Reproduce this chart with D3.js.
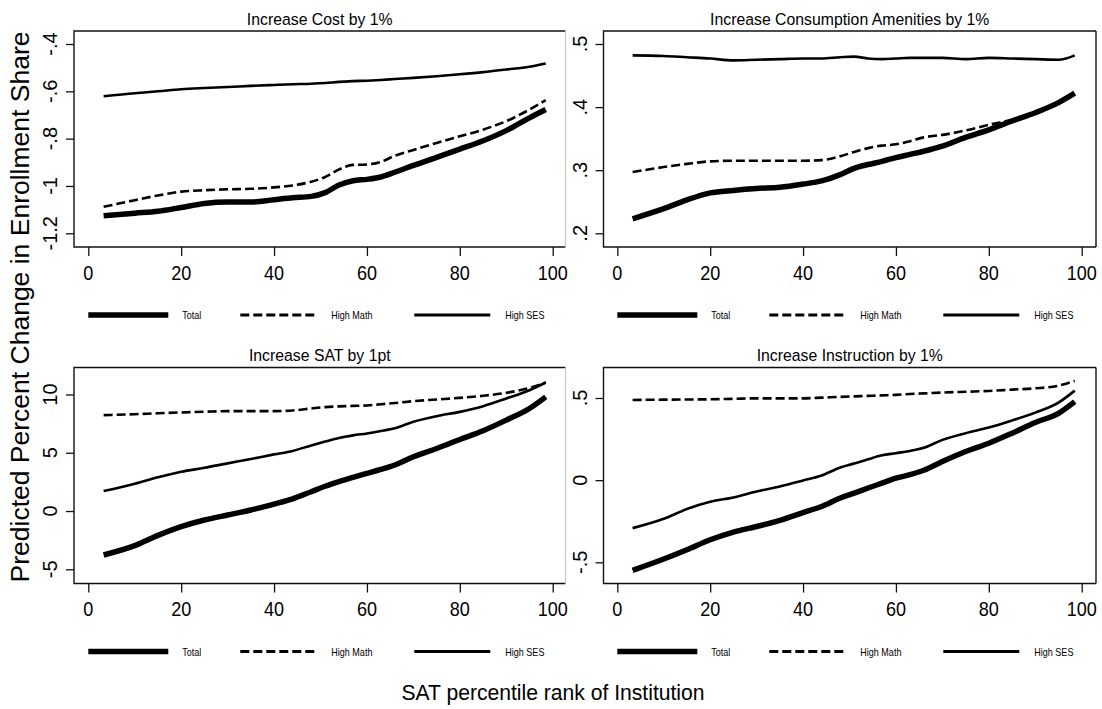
<!DOCTYPE html>
<html>
<head>
<meta charset="utf-8">
<script src="https://cdn.jsdelivr.net/npm/d3@7"></script>
<style>
  html, body { margin: 0; padding: 0; background: #fff; }
  svg { display: block; }
  text { font-family: "Liberation Sans", Arial, sans-serif; fill: #000; }
</style>
</head>
<body>
<svg id="chart" width="1102" height="709"></svg>
<script>
// SAT percentile rank of institution (x values shared by all series)
const rank = [3.3, 10, 15, 20, 25, 30, 35, 40, 44, 48, 51, 54, 57, 60, 63, 66, 70, 75, 80, 85, 90, 95, 98.5];

// Increase Cost by 1%
const costTotal = [-1.126, -1.115, -1.107, -1.091, -1.074, -1.068, -1.068, -1.058, -1.050, -1.044, -1.028, -0.996, -0.978, -0.972, -0.962, -0.942, -0.913, -0.879, -0.844, -0.809, -0.766, -0.712, -0.677];
const costMath  = [-1.088, -1.060, -1.040, -1.024, -1.018, -1.014, -1.012, -1.006, -0.998, -0.982, -0.962, -0.930, -0.911, -0.909, -0.898, -0.872, -0.848, -0.818, -0.790, -0.762, -0.726, -0.677, -0.637];
const costSES   = [-0.621, -0.608, -0.600, -0.591, -0.586, -0.582, -0.577, -0.573, -0.570, -0.568, -0.565, -0.560, -0.557, -0.555, -0.552, -0.548, -0.543, -0.536, -0.528, -0.519, -0.508, -0.496, -0.482];

// Increase Consumption Amenities by 1%
const amenTotal = [0.223, 0.239, 0.253, 0.264, 0.268, 0.271, 0.273, 0.278, 0.283, 0.293, 0.303, 0.309, 0.314, 0.320, 0.325, 0.330, 0.338, 0.352, 0.364, 0.378, 0.391, 0.407, 0.422];
const amenMath  = [0.297, 0.305, 0.310, 0.314, 0.315, 0.315, 0.315, 0.315, 0.316, 0.322, 0.329, 0.335, 0.339, 0.341, 0.346, 0.352, 0.356, 0.363, 0.372, 0.380, 0.391, 0.407, 0.424];
const amenSES   = [0.482, 0.481, 0.479, 0.477, 0.474, 0.475, 0.476, 0.477, 0.477, 0.479, 0.480, 0.477, 0.476, 0.477, 0.478, 0.478, 0.478, 0.476, 0.478, 0.477, 0.476, 0.475, 0.482];

// Increase SAT by 1pt
const satTotal = [-3.77, -2.97, -2.09, -1.34, -0.77, -0.34, 0.09, 0.60, 1.05, 1.66, 2.13, 2.53, 2.89, 3.23, 3.57, 3.95, 4.66, 5.37, 6.14, 6.89, 7.80, 8.80, 9.80];
const satMath  = [8.23, 8.31, 8.39, 8.46, 8.52, 8.57, 8.57, 8.57, 8.63, 8.80, 8.92, 8.98, 9.02, 9.06, 9.16, 9.27, 9.43, 9.57, 9.71, 9.89, 10.14, 10.57, 11.03];
const satSES   = [1.71, 2.34, 2.89, 3.37, 3.71, 4.09, 4.46, 4.86, 5.16, 5.63, 5.96, 6.27, 6.49, 6.66, 6.86, 7.10, 7.66, 8.14, 8.51, 9.00, 9.66, 10.37, 11.03];

// Increase Instruction by 1%
const instTotal = [-0.549, -0.480, -0.424, -0.363, -0.316, -0.282, -0.245, -0.197, -0.160, -0.109, -0.079, -0.048, -0.018, 0.012, 0.033, 0.060, 0.113, 0.174, 0.225, 0.286, 0.351, 0.407, 0.478];
const instMath  = [0.488, 0.490, 0.491, 0.492, 0.495, 0.498, 0.498, 0.498, 0.502, 0.507, 0.510, 0.513, 0.516, 0.519, 0.524, 0.528, 0.533, 0.538, 0.543, 0.551, 0.559, 0.575, 0.604];
const instSES   = [-0.292, -0.235, -0.176, -0.132, -0.105, -0.069, -0.038, -0.002, 0.028, 0.077, 0.101, 0.127, 0.151, 0.164, 0.178, 0.197, 0.245, 0.286, 0.320, 0.363, 0.411, 0.472, 0.545];

// Axis ticks and labels
const xTicks = [0, 20, 40, 60, 80, 100];
const costTicks = [-0.4, -0.6, -0.8, -1, -1.2];
const costTickLabels = ["-.4", "-.6", "-.8", "-1", "-1.2"];
const amenTicks = [0.5, 0.4, 0.3, 0.2];
const amenTickLabels = [".5", ".4", ".3", ".2"];
const satTicks = [10, 5, 0, -5];
const satTickLabels = ["10", "5", "0", "-5"];
const instTicks = [0.5, 0, -0.5];
const instTickLabels = [".5", "0", "-.5"];

const seriesNames = ["Total", "High Math", "High SES"];
const panelTitles = ["Increase Cost by 1%", "Increase Consumption Amenities by 1%", "Increase SAT by 1pt", "Increase Instruction by 1%"];
const yTitle = "Predicted Percent Change in Enrollment Share";
const xTitle = "SAT percentile rank of Institution";

// Line styles per series
const styles = [
  { width: 5.5, dash: null },
  { width: 2.6, dash: "9,4" },
  { width: 2.6, dash: null }
];

const svg = d3.select("#chart");

// Panel geometry
const panels = [
  { title: panelTitles[0], series: [costTotal, costMath, costSES], ticks: costTicks, labels: costTickLabels,
    box: [74, 31, 565.5, 247], x0: 88.3, yDom: [-0.4, -1.2], yRange: [44, 233.3], rightGray: true },
  { title: panelTitles[1], series: [amenTotal, amenMath, amenSES], ticks: amenTicks, labels: amenTickLabels,
    box: [603.5, 31, 1096, 247], x0: 617.3, yDom: [0.5, 0.2], yRange: [44, 233.3], rightGray: false },
  { title: panelTitles[2], series: [satTotal, satMath, satSES], ticks: satTicks, labels: satTickLabels,
    box: [74, 367.5, 565.5, 583.5], x0: 88.3, yDom: [10, -5], yRange: [394.5, 569.3], rightGray: true },
  { title: panelTitles[3], series: [instTotal, instMath, instSES], ticks: instTicks, labels: instTickLabels,
    box: [603.5, 367.5, 1096, 583.5], x0: 617.3, yDom: [0.5, -0.5], yRange: [398, 562.3], rightGray: false }
];

// Horizontally condensed text helper
function ctext(parent, x, y, str, size, sx, anchor) {
  const g = parent.append("g").attr("transform", `translate(${x},${y}) scale(${sx},1)`);
  g.append("text").attr("x", 0).attr("y", 0)
    .attr("font-size", size).attr("text-anchor", anchor || "start").text(str);
  return g;
}

panels.forEach(p => {
  const [bx0, by0, bx1, by1] = p.box;
  const x = d3.scaleLinear().domain([0, 100]).range([p.x0, p.x0 + 464.4]);
  const y = d3.scaleLinear().domain(p.yDom).range(p.yRange);
  const g = svg.append("g");

  // Title
  ctext(g, (bx0 + bx1) / 2, by0 - 6.5, p.title, 17, 0.93, "middle");

  // Data lines
  p.series.forEach((vals, i) => {
    const pts = rank.map((r, k) => [r, vals[k]]);
    const line = d3.line().x(d => x(d[0])).y(d => y(d[1])).curve(d3.curveMonotoneX);
    g.append("path").datum(pts)
      .attr("d", line)
      .attr("fill", "none")
      .attr("stroke", "#000")
      .attr("stroke-width", styles[i].width)
      .attr("stroke-linejoin", "round")
      .attr("stroke-dasharray", styles[i].dash);
  });

  // Plot border
  g.append("path")
    .attr("d", `M${bx1},${by0} H${bx0} V${by1} H${bx1}`)
    .attr("fill", "none").attr("stroke", "#111").attr("stroke-width", 1.4);
  g.append("line")
    .attr("x1", bx1).attr("x2", bx1).attr("y1", by0).attr("y2", by1)
    .attr("stroke", p.rightGray ? "#c8c8c8" : "#111").attr("stroke-width", p.rightGray ? 1.2 : 1.4);

  // X axis ticks
  const xAxis = d3.axisBottom(x).tickValues(xTicks).tickSize(9).tickFormat("");
  const xa = g.append("g").attr("transform", `translate(0,${by1})`).call(xAxis);
  xa.select(".domain").remove();
  xa.selectAll(".tick line").attr("stroke", "#111").attr("stroke-width", 1.3);
  xTicks.forEach(t => ctext(g, x(t), by1 + 32.5, String(t), 21, 0.86, "middle"));

  // Y axis ticks
  const yAxis = d3.axisLeft(y).tickValues(p.ticks).tickSize(8).tickFormat("");
  const ya = g.append("g").attr("transform", `translate(${bx0},0)`).call(yAxis);
  ya.select(".domain").remove();
  ya.selectAll(".tick line").attr("stroke", "#111").attr("stroke-width", 1.3);
  p.ticks.forEach((t, i) => {
    g.append("text")
      .attr("transform", `translate(${bx0 - 17},${y(t)}) rotate(-90)`)
      .attr("text-anchor", "middle").attr("font-size", 20)
      .text(p.labels[i]);
  });

  // Legend
  const ly = by1 + 68;
  const lx = p.x0;
  const legendItems = [
    { a: 0, b: 80, t: 94 },
    { a: 152, b: 229, t: 243 },
    { a: 326, b: 402, t: 417 }
  ];
  legendItems.forEach((it, i) => {
    g.append("line")
      .attr("x1", lx + it.a).attr("x2", lx + it.b).attr("y1", ly).attr("y2", ly)
      .attr("stroke", "#000").attr("stroke-width", i === 0 ? 5.5 : 2.8)
      .attr("stroke-dasharray", styles[i].dash);
    ctext(g, lx + it.t, ly + 4, seriesNames[i], 10.5, 0.86, "start");
  });
});

// Shared axis titles
svg.append("text")
  .attr("transform", "translate(29,307) rotate(-90)")
  .attr("text-anchor", "middle").attr("font-size", 26.5)
  .text(yTitle);
ctext(svg, 553, 700, xTitle, 22, 0.96, "middle");
</script>
</body>
</html>
